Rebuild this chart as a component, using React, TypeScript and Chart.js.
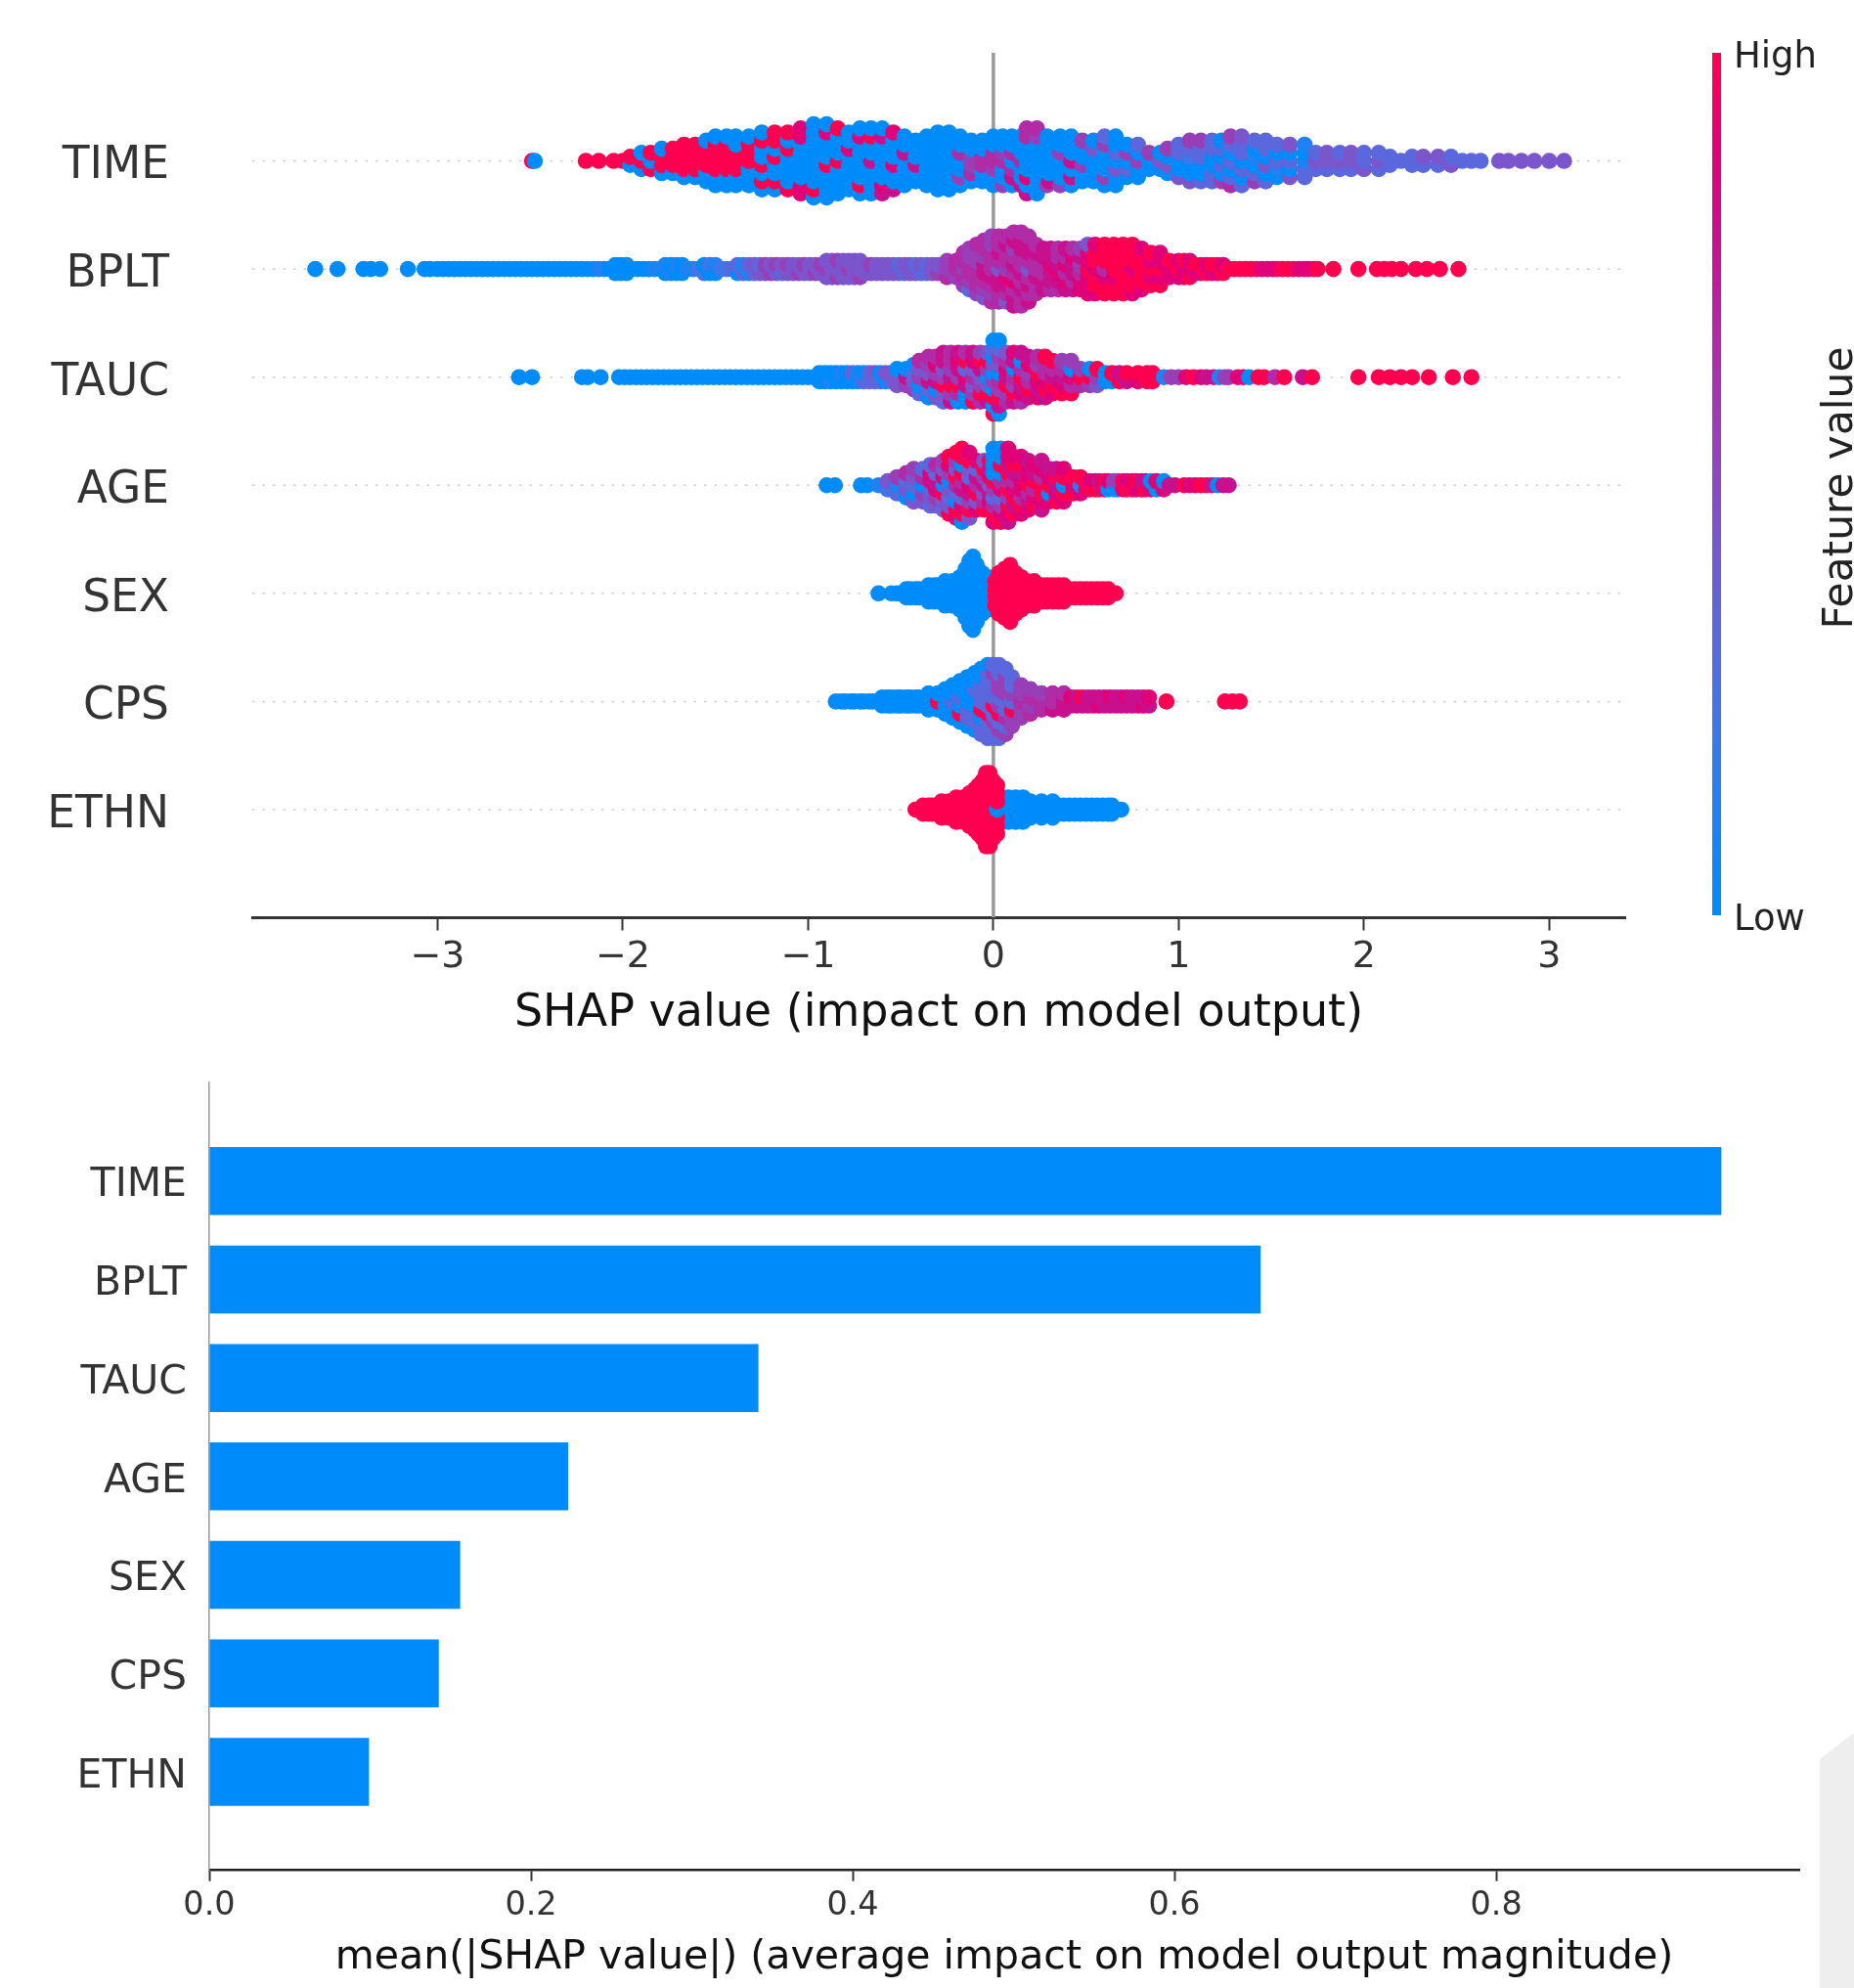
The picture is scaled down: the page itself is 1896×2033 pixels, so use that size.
import React, { useEffect, useRef } from "react";
import Chart from "chart.js/auto";

const FEATURES = ["TIME", "BPLT", "TAUC", "AGE", "SEX", "CPS", "ETHN"];
const MEAN_ABS_SHAP = [0.94, 0.6536, 0.3414, 0.2231, 0.156, 0.1427, 0.0993];
const TOP_TICKS = [-3, -2, -1, 0, 1, 2, 3];
const BOTTOM_TICKS = [0, 0.2, 0.4, 0.6, 0.8];

// Feature-value colour levels, low (0) to high (9).
const LEVELS = ["#008bfb", "#1f82f3", "#3f76ea", "#5b68dd", "#7a55cc", "#983fb8", "#b12aa6", "#c8108f", "#e00078", "#ff0051"];

// Beeswarm columns: [SHAP value, feature level of each stacked dot, bottom to top].
type Column = [number, string];
const TIME_SWARM: Column[] = [
  [-2.49, "9"], [-2.475, "0"], [-2.2, "9"], [-2.13, "9"], [-2.05, "9"], [-2.0, "9"], [-1.96, "09"], [-1.9, "090"],
  [-1.85, "909"], [-1.79, "0990"], [-1.73, "0999"], [-1.67, "09999"], [-1.61, "09999"], [-1.55, "009990"],
  [-1.5, "0099990"], [-1.44, "0099990"], [-1.39, "0099900"], [-1.32, "0009990"], [-1.25, "09090090"],
  [-1.18, "09009099"], [-1.11, "90000909"], [-1.04, "880000088"], [-0.97, "0900000000"], [-0.9, "0000900080"],
  [-0.84, "000090009"], [-0.78, "00000800"], [-0.72, "090000080"], [-0.66, "000070090"], [-0.6, "780000070"],
  [-0.54, "70080008"], [-0.48, "0000700"], [-0.42, "007000"], [-0.36, "0000000"], [-0.3, "00000000"],
  [-0.24, "00000000"], [-0.18, "0500600"], [-0.12, "065500"], [-0.06, "006600"], [0, "0056600"], [0.05, "5006500"],
  [0.1, "0760600"], [0.15, "7006000"], [0.18, "708000066"], [0.235, "000000056"], [0.29, "5000000"], [0.3, "700000"],
  [0.36, "5000500"], [0.42, "0707000"], [0.48, "005005"], [0.54, "000040"], [0.6, "0500053"], [0.66, "0040300"],
  [0.72, "03050"], [0.78, "00503"], [0.84, "005"], [0.9, "040"], [0.94, "0405"], [1.0, "40033"], [1.06, "400235"],
  [1.12, "300335"], [1.18, "330033"], [1.23, "503030"], [1.28, "6303035"], [1.34, "3030334"], [1.41, "530103"],
  [1.47, "304033"], [1.53, "01303"], [1.6, "40304"], [1.68, "33101"], [1.74, "343"], [1.8, "344"], [1.87, "343"],
  [1.93, "344"], [2.0, "433"], [2.08, "343"], [2.14, "33"], [2.2, "3"], [2.26, "33"], [2.32, "34"], [2.4, "34"],
  [2.47, "43"], [2.53, "3"], [2.58, "3"], [2.63, "3"], [2.73, "4"], [2.78, "4"], [2.85, "4"], [2.92, "4"], [3.0, "4"], [3.08, "4"],
];
const BPLT_SWARM: Column[] = [
  [-3.66, "0"], [-3.54, "0"], [-3.4, "0"], [-3.36, "0"], [-3.31, "0"], [-3.16, "0"], [-3.07, "0"], [-3.04, "0"], [-3.0, "0"], [-2.97, "0"],
  [-2.94, "0"], [-2.91, "0"], [-2.88, "0"], [-2.85, "0"], [-2.82, "0"], [-2.79, "0"], [-2.76, "0"], [-2.73, "0"], [-2.7, "0"], [-2.67, "0"],
  [-2.64, "0"], [-2.61, "0"], [-2.58, "0"], [-2.55, "0"], [-2.52, "0"], [-2.49, "0"], [-2.46, "0"], [-2.43, "0"], [-2.4, "0"], [-2.37, "0"],
  [-2.34, "0"], [-2.31, "0"], [-2.28, "0"], [-2.25, "0"], [-2.22, "0"], [-2.19, "0"], [-2.16, "0"], [-2.13, "1"], [-2.1, "1"], [-2.07, "0"],
  [-2.04, "00"], [-2.01, "00"], [-1.98, "00"], [-1.95, "0"], [-1.92, "0"], [-1.89, "0"], [-1.86, "0"], [-1.83, "1"],
  [-1.8, "1"], [-1.77, "01"], [-1.74, "10"], [-1.71, "01"], [-1.68, "00"], [-1.65, "1"], [-1.62, "1"], [-1.59, "2"], [-1.56, "20"], [-1.53, "02"],
  [-1.5, "01"], [-1.47, "2"], [-1.44, "2"], [-1.41, "3"], [-1.38, "03"], [-1.35, "31"], [-1.32, "13"],
  [-1.29, "34"], [-1.26, "43"], [-1.23, "45"], [-1.2, "54"], [-1.17, "45"], [-1.14, "34"], [-1.11, "45"], [-1.08, "44"], [-1.05, "54"], [-1.02, "45"], [-0.99, "44"], [-0.96, "54"],
  [-0.93, "45"], [-0.9, "454"], [-0.87, "444"], [-0.84, "545"], [-0.81, "444"],
  [-0.78, "454"], [-0.75, "444"], [-0.72, "544"], [-0.69, "44"], [-0.66, "45"], [-0.63, "44"], [-0.6, "44"], [-0.57, "44"], [-0.54, "44"], [-0.51, "43"], [-0.48, "34"], [-0.45, "44"], [-0.42, "43"], [-0.39, "34"], [-0.36, "33"], [-0.33, "44"],
  [-0.3, "54"], [-0.25, "655"], [-0.2, "566"], [-0.16, "56566"], [-0.13, "356655"], [-0.09, "5666556"], [-0.05, "45677566"],
  [-0.01, "656766655"], [0.03, "667746766"], [0.07, "467856676"], [0.11, "7768676576"], [0.15, "6676766776"], [0.19, "767646776"],
  [0.23, "6676676"], [0.27, "776677"], [0.31, "677877"], [0.35, "678766"], [0.39, "786867"], [0.43, "767786"], [0.47, "886575"],
  [0.51, "8889884"], [0.55, "8998998"], [0.6, "9986999"], [0.65, "9989999"], [0.7, "9999999"], [0.75, "8998999"], [0.8, "899998"],
  [0.85, "98989"], [0.9, "98988"], [0.95, "889"], [1.0, "898"], [1.03, "889"], [1.06, "988"], [1.09, "89"], [1.12, "89"], [1.15, "98"], [1.18, "89"], [1.21, "89"], [1.24, "98"], [1.27, "9"], [1.3, "9"], [1.33, "9"],
  [1.36, "9"], [1.39, "9"], [1.42, "9"], [1.45, "8"], [1.48, "8"], [1.51, "8"], [1.53, "8"], [1.56, "9"], [1.59, "9"], [1.62, "9"], [1.65, "8"], [1.68, "8"], [1.7, "8"], [1.73, "8"], [1.75, "9"], [1.835, "9"], [1.97, "9"],
  [2.07, "9"], [2.11, "9"], [2.15, "9"], [2.2, "9"], [2.28, "9"], [2.34, "9"], [2.41, "9"], [2.51, "9"],
];
const TAUC_SWARM: Column[] = [
  [-2.56, "0"], [-2.49, "0"], [-2.22, "0"], [-2.19, "0"], [-2.12, "0"], [-2.02, "0"], [-1.99, "0"], [-1.96, "0"], [-1.93, "0"], [-1.9, "0"], [-1.87, "0"], [-1.84, "0"], [-1.81, "0"], [-1.78, "0"],
  [-1.75, "0"], [-1.72, "0"], [-1.69, "0"], [-1.66, "0"], [-1.63, "0"], [-1.6, "0"], [-1.57, "0"], [-1.54, "0"], [-1.51, "0"], [-1.48, "0"], [-1.45, "0"], [-1.42, "0"], [-1.39, "0"], [-1.36, "0"], [-1.33, "0"], [-1.3, "0"], [-1.27, "0"], [-1.24, "0"],
  [-1.21, "0"], [-1.18, "0"], [-1.15, "0"], [-1.12, "0"], [-1.09, "0"], [-1.06, "0"], [-1.03, "0"], [-1.0, "0"], [-0.97, "0"], [-0.94, "00"], [-0.91, "00"], [-0.88, "10"], [-0.85, "00"], [-0.82, "01"], [-0.79, "00"], [-0.76, "03"], [-0.73, "01"], [-0.7, "30"],
  [-0.67, "33"], [-0.64, "34"], [-0.61, "30"], [-0.58, "04"], [-0.55, "34"], [-0.52, "440"], [-0.47, "570"], [-0.43, "5430"], [-0.4, "30546"], [-0.35, "037456"], [-0.31, "407586"],
  [-0.27, "3495477"], [-0.23, "7597566"], [-0.19, "0695787"], [-0.15, "0078396"], [-0.11, "9546487"], [-0.07, "6954795"], [-0.03, "7940594"],
  [0.0, "9090504030"], [0.03, "0795604530"], [0.07, "6597864"], [0.11, "7956078"], [0.15, "6879607"], [0.19, "796587"], [0.24, "878956"],
  [0.28, "798669"], [0.32, "89769"], [0.37, "98765"], [0.42, "96805"], [0.47, "695"], [0.52, "590"], [0.56, "459"], [0.605, "00"],
  [0.64, "09"], [0.68, "97"], [0.72, "79"], [0.78, "89"], [0.83, "99"], [0.86, "99"], [0.88, "9"], [0.92, "1"], [0.96, "5"], [1.0, "5"], [1.04, "8"], [1.08, "9"], [1.12, "8"],
  [1.15, "7"], [1.19, "7"], [1.22, "1"], [1.25, "5"], [1.27, "5"], [1.32, "8"], [1.35, "8"], [1.38, "0"], [1.43, "9"], [1.46, "9"], [1.52, "6"], [1.57, "9"], [1.67, "7"], [1.72, "9"],
  [1.97, "9"], [2.08, "9"], [2.14, "9"], [2.2, "9"], [2.26, "9"], [2.35, "9"], [2.48, "9"], [2.58, "9"],
];
const AGE_SWARM: Column[] = [
  [-0.9, "0"], [-0.855, "0"], [-0.715, "0"], [-0.68, "0"], [-0.62, "1"], [-0.57, "24"], [-0.52, "315"], [-0.47, "0436"],
  [-0.43, "40345"], [-0.38, "45063"], [-0.34, "343783"], [-0.31, "458736"], [-0.27, "3490845"], [-0.24, "94340589"],
  [-0.2, "890369459"], [-0.17, "0983769099"], [-0.13, "495783498"], [-0.09, "8496738"], [-0.05, "9647594"], [-0.02, "9874879"],
  [0.0, "8963590000"], [0.04, "9853860900"], [0.08, "7895969788"], [0.11, "97986798"], [0.15, "89688798"], [0.19, "8769887"],
  [0.22, "986978"], [0.26, "7899687"], [0.3, "80987"], [0.34, "98797"], [0.38, "89098"], [0.43, "989"], [0.47, "819"],
  [0.5, "89"], [0.52, "98"], [0.55, "98"], [0.57, "97"], [0.6, "89"], [0.62, "08"], [0.65, "05"], [0.67, "05"], [0.7, "89"], [0.72, "98"], [0.75, "98"], [0.77, "89"], [0.8, "87"], [0.82, "97"], [0.85, "80"], [0.88, "08"], [0.92, "80"],
  [0.95, "7"], [0.98, "7"], [1.03, "9"], [1.06, "8"], [1.09, "8"], [1.12, "9"], [1.15, "9"], [1.18, "7"], [1.21, "0"], [1.24, "7"], [1.27, "7"],
];
const SEX_SWARM: Column[] = [
  [-0.62, "0"], [-0.55, "0"], [-0.52, "0"], [-0.5, "0"], [-0.47, "00"], [-0.45, "00"], [-0.42, "00"], [-0.4, "00"], [-0.37, "00"], [-0.35, "000"], [-0.32, "000"], [-0.3, "000"], [-0.26, "0000"],
  [-0.22, "0000"], [-0.18, "00000"], [-0.15, "0000000"], [-0.13, "000000000"], [-0.11, "0000000000"], [-0.09, "00000000"],
  [-0.06, "000000"], [-0.03, "00000"], [-0.01, "000"], [0.01, "9999"], [0.03, "999999"], [0.06, "9999999"], [0.09, "99999999"],
  [0.12, "999999"], [0.15, "99999"], [0.18, "9999"], [0.22, "9999"], [0.26, "999"], [0.29, "999"], [0.32, "999"], [0.35, "999"], [0.38, "999"], [0.41, "99"], [0.44, "99"], [0.47, "99"],
  [0.5, "99"], [0.53, "99"], [0.56, "99"], [0.59, "99"], [0.62, "99"], [0.66, "9"],
];
const CPS_SWARM: Column[] = [
  [-0.85, "0"], [-0.82, "0"], [-0.8, "0"], [-0.77, "0"], [-0.75, "0"], [-0.72, "0"], [-0.7, "0"], [-0.67, "0"], [-0.65, "0"], [-0.62, "0"], [-0.6, "00"], [-0.57, "00"], [-0.55, "00"], [-0.52, "00"], [-0.5, "00"], [-0.47, "00"], [-0.45, "00"],
  [-0.42, "00"], [-0.4, "00"], [-0.35, "000"], [-0.3, "090"], [-0.26, "0000"], [-0.22, "00300"], [-0.18, "090300"], [-0.14, "0330000"],
  [-0.1, "03300300"], [-0.066, "330933300"], [-0.03, "3339333330"], [0, "3353933353"], [0.03, "3539535533"], [0.066, "536335553"],
  [0.1, "5593533"], [0.15, "55655"], [0.2, "6565"], [0.26, "665"], [0.32, "766"], [0.38, "776"], [0.42, "78"], [0.45, "77"], [0.48, "79"], [0.51, "77"],
  [0.54, "77"], [0.57, "87"], [0.6, "77"], [0.63, "78"], [0.66, "77"], [0.69, "77"], [0.72, "78"], [0.75, "77"], [0.78, "77"], [0.81, "87"], [0.84, "78"], [0.934, "9"], [1.25, "9"], [1.29, "9"], [1.33, "9"],
];
const ETHN_SWARM: Column[] = [
  [0.69, "0"], [0.64, "00"], [0.62, "00"], [0.59, "00"], [0.56, "00"], [0.53, "00"], [0.5, "00"], [0.47, "00"], [0.44, "00"], [0.41, "00"], [0.38, "00"], [0.35, "00"], [0.32, "000"], [0.26, "000"], [0.2, "000"],
  [0.16, "0000"], [0.12, "0000"], [0.08, "0000"], [0.05, "0000"], [-0.42, "9"], [-0.38, "99"], [-0.35, "99"], [-0.33, "99"], [-0.3, "99"], [-0.28, "999"],
  [-0.24, "999"], [-0.2, "9999"], [-0.16, "9999"], [-0.13, "99999"], [-0.1, "999999"], [-0.08, "9999999"], [-0.06, "99999999"],
  [-0.04, "9999999999"], [-0.02, "9999999999"], [0, "99999999"], [0.02, "9990999"],
];
const SWARMS = [TIME_SWARM, BPLT_SWARM, TAUC_SWARM, AGE_SWARM, SEX_SWARM, CPS_SWARM, ETHN_SWARM];

const FONT = "'DejaVu Sans'";
const rowOf = (i: number) => FEATURES.length - 1 - i;

function swarmDataset(swarm: Column[], featureIndex: number) {
  const data: { x: number; y: number }[] = [];
  const colors: string[] = [];
  for (const [x, stack] of swarm) {
    [...stack].forEach((level, k) => {
      data.push({ x, y: rowOf(featureIndex) + (k - (stack.length - 1) / 2) * 0.0752 });
      colors.push(LEVELS[Number(level)]);
    });
  }
  return { data, pointBackgroundColor: colors, pointBorderWidth: 0, pointRadius: 8.3, showLine: false, order: 0 };
}

const setWidth = (w: number) => (s: any) => { s.width = w; s.paddingTop = 0; s.paddingBottom = 0; };
const setHeight = (h: number) => (s: any) => { s.height = h; };
const setTicks = (values: number[]) => (s: any) => { s.ticks = values.map((value) => ({ value })); };
// Row labels sit a little under their row centre in the reference.
const rowTicks = (nudge: number) => setTicks(FEATURES.map((_, i) => i - nudge));

const featureValueLabel = {
  id: "featureValueLabel",
  afterDraw(chart: any) {
    const { ctx } = chart;
    ctx.save();
    ctx.translate(194, 499);
    ctx.rotate(-Math.PI / 2);
    ctx.textAlign = "center";
    ctx.textBaseline = "alphabetic";
    ctx.fillStyle = "#222222";
    ctx.font = `42.3px ${FONT}`;
    ctx.fillText("Feature value", 0, 0);
    ctx.restore();
  },
};

function makeTop(canvas: HTMLCanvasElement) {
  const rowLines = FEATURES.map((_, i) => ({
    data: [{ x: -4, y: rowOf(i) }, { x: 3.39, y: rowOf(i) }],
    showLine: true, pointRadius: 0, borderColor: "#cccccc", borderWidth: 1.5, borderDash: [2.5, 8], order: 2,
  }));
  const zeroLine = {
    data: [{ x: 0, y: -1 }, { x: 0, y: 7 }],
    showLine: true, pointRadius: 0, borderColor: "#999999", borderWidth: 3.5, order: 1,
  };
  return new Chart(canvas, {
    type: "scatter",
    data: { datasets: [...SWARMS.map(swarmDataset), zeroLine, ...rowLines] as any },
    options: {
      animation: false, responsive: false, events: [],
      layout: { padding: { top: 54, right: 78, left: 0, bottom: 0 } },
      plugins: { legend: { display: false }, tooltip: { enabled: false } },
      scales: {
        x: {
          type: "linear", min: -4, max: 3.41,
          afterBuildTicks: setTicks(TOP_TICKS), afterFit: setHeight(136.5),
          border: { display: true, color: "#333333", width: 3 },
          grid: { display: true, drawOnChartArea: false, drawTicks: true, tickLength: 13, tickWidth: 2, tickColor: "#333333" },
          ticks: {
            color: "#333333", font: { family: FONT, size: 38 }, padding: 5, maxRotation: 0, minRotation: 0, autoSkip: false,
            callback: (v: any) => (v < 0 ? "\u2212" + Math.abs(v) : String(v)),
          },
          title: { display: true, text: "SHAP value (impact on model output)", color: "#111111", font: { family: FONT, size: 46 }, padding: { top: 0, bottom: 10 } },
        },
        y: {
          type: "linear", min: -1, max: 7,
          afterBuildTicks: rowTicks(0.055), afterFit: setWidth(258),
          border: { display: false },
          grid: { display: false, drawTicks: false },
          ticks: {
            color: "#333333", font: { family: FONT, size: 45.5 }, padding: 85, autoSkip: false,
            callback: (_v: any, i: number) => FEATURES[rowOf(i)],
          },
        },
      },
    } as any,
  });
}

function makeColorbar(canvas: HTMLCanvasElement) {
  return new Chart(canvas, {
    type: "bar",
    data: {
      labels: ["Feature value"],
      datasets: [{
        data: [[0, 1]] as any,
        barPercentage: 1, categoryPercentage: 1, borderWidth: 0,
        backgroundColor: (ctx: any) => {
          const area = ctx.chart.chartArea;
          if (!area) return LEVELS[4];
          const g = ctx.chart.ctx.createLinearGradient(0, area.bottom, 0, area.top);
          LEVELS.forEach((c, i) => g.addColorStop(i / (LEVELS.length - 1), c));
          return g;
        },
      }],
    },
    options: {
      animation: false, responsive: false, events: [],
      layout: { padding: { top: 54, bottom: 39, left: 51, right: 0 } },
      plugins: { legend: { display: false }, tooltip: { enabled: false } },
      scales: {
        x: { display: false },
        y: {
          position: "right", min: 0, max: 1,
          afterBuildTicks: setTicks([-0.006, 0.994]), afterFit: setWidth(136),
          border: { display: false },
          grid: { display: false, drawTicks: false },
          ticks: {
            color: "#222222", font: { family: FONT, size: 37 }, padding: 13, autoSkip: false,
            callback: (v: any) => (v < 0.5 ? "Low" : "High"),
          },
        },
      },
    } as any,
    plugins: [featureValueLabel],
  });
}

function makeBottom(canvas: HTMLCanvasElement) {
  return new Chart(canvas, {
    type: "bar",
    data: {
      datasets: [{
        data: MEAN_ABS_SHAP.map((x, i) => ({ x, y: rowOf(i) })),
        backgroundColor: LEVELS[0], borderWidth: 0, barPercentage: 0.69, categoryPercentage: 1,
      }],
    },
    options: {
      indexAxis: "y",
      animation: false, responsive: false, events: [],
      layout: { padding: { top: 22, right: 56, left: 0, bottom: 0 } },
      plugins: { legend: { display: false }, tooltip: { enabled: false } },
      scales: {
        x: {
          type: "linear", min: 0, max: 0.9884,
          afterBuildTicks: setTicks(BOTTOM_TICKS), afterFit: setHeight(120.3),
          border: { display: true, color: "#222222", width: 2.5 },
          grid: { display: true, drawOnChartArea: false, drawTicks: true, tickLength: 11, tickWidth: 2, tickColor: "#333333" },
          ticks: {
            color: "#333333", font: { family: FONT, size: 33.5 }, padding: 5, maxRotation: 0, minRotation: 0, autoSkip: false,
            callback: (v: any) => Number(v).toFixed(1),
          },
          title: { display: true, text: "mean(|SHAP value|) (average impact on model output magnitude)", color: "#111111", font: { family: FONT, size: 41.1 }, padding: { top: 0, bottom: 5.8 } },
        },
        y: {
          type: "linear", min: -1, max: 7, offset: false,
          afterBuildTicks: rowTicks(0.05), afterFit: setWidth(214),
          border: { display: true, color: "#999999", width: 1.5 },
          grid: { display: false, drawTicks: false, offset: false },
          ticks: {
            color: "#333333", font: { family: FONT, size: 41 }, padding: 23, autoSkip: false,
            callback: (_v: any, i: number) => FEATURES[rowOf(i)],
          },
        },
      },
    } as any,
  });
}

const abs = (left: number, top: number): React.CSSProperties => ({ position: "absolute", left, top, display: "block" });

export default function App() {
  const topRef = useRef<HTMLCanvasElement>(null);
  const barRef = useRef<HTMLCanvasElement>(null);
  const bottomRef = useRef<HTMLCanvasElement>(null);
  useEffect(() => {
    const charts = [makeTop(topRef.current!), makeColorbar(barRef.current!), makeBottom(bottomRef.current!)];
    return () => charts.forEach((c) => c.destroy());
  }, []);
  return (
    <div style={{ position: "absolute", left: 0, top: 0, width: 1896, height: 2033, overflow: "hidden", background: "#ffffff" }}>
      <div style={{ position: "absolute", left: 1861, top: 1772, width: 35, height: 261, background: "#eeeeee", clipPath: "polygon(0 27px, 100% 0, 100% 100%, 0 100%)" }} />
      <canvas ref={topRef} width={1740} height={1075} style={abs(0, 0)} />
      <canvas ref={barRef} width={196} height={975} style={abs(1700, 0)} />
      <canvas ref={bottomRef} width={1896} height={948} style={abs(0, 1085)} />
    </div>
  );
}
